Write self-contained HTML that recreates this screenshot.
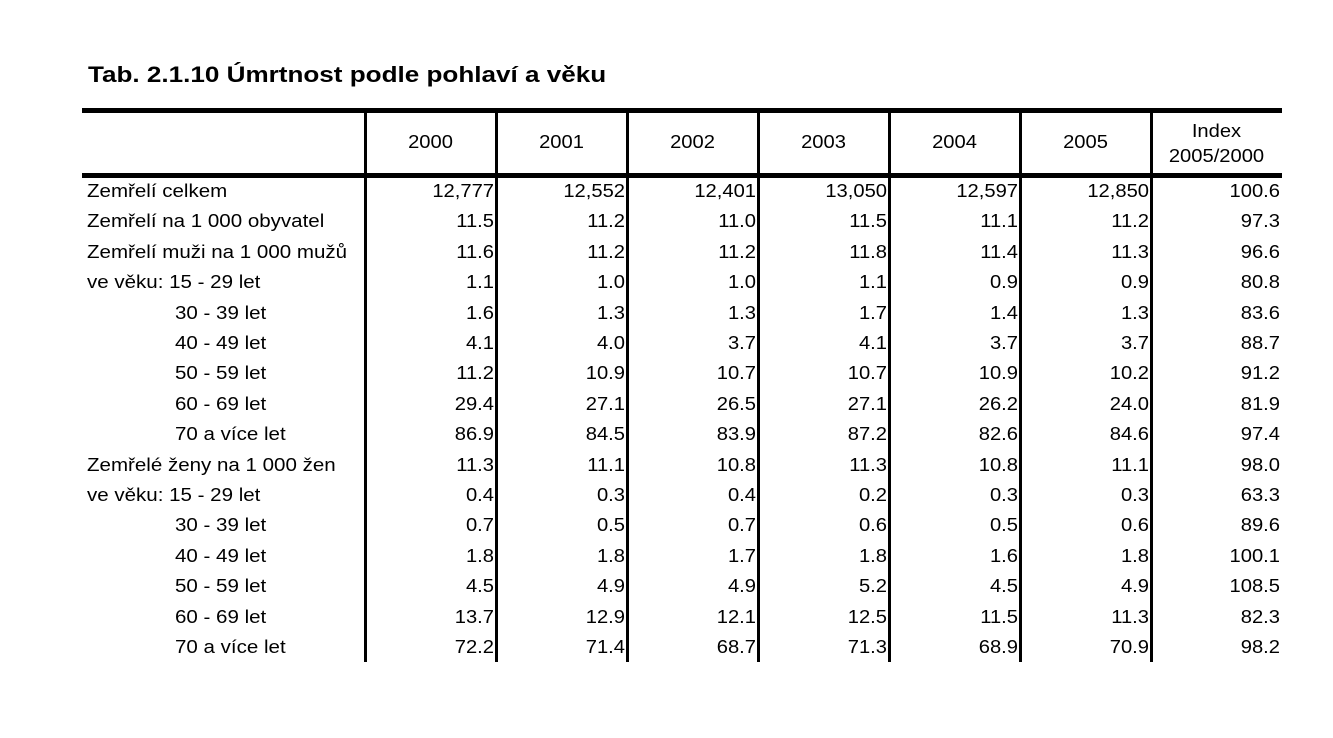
<!DOCTYPE html>
<html><head><meta charset="utf-8"><style>
body{margin:0;background:#fff;width:1333px;height:738px;position:relative;overflow:hidden;font-family:"Liberation Sans",Arial,sans-serif;color:#000}
.t{position:absolute;left:88px;top:62px;font-size:22px;font-weight:bold;white-space:nowrap;transform:scaleX(1.185);transform-origin:left center}
.h{position:absolute;background:#000}
.c{position:absolute;font-size:18px;white-space:nowrap;line-height:20px}
.l{transform:scaleX(1.14);transform-origin:left center}
.r{transform:scaleX(1.12);transform-origin:right center}
.m{transform:scaleX(1.12);transform-origin:center center}
</style></head><body>
<div class="t">Tab. 2.1.10 Úmrtnost podle pohlaví a věku</div>
<div class="h" style="left:82px;top:108px;width:1200px;height:5px"></div>
<div class="h" style="left:82px;top:173px;width:1200px;height:5px"></div>
<div id="v"></div>
<div id="d"></div>
<script>
var xs=[365,496,627,758,889,1020,1151],v='';
xs.forEach(function(x){v+='<div class="h" style="left:'+(x-1)+'px;top:113px;width:3px;height:549px"></div>';});
document.getElementById('v').innerHTML=v;
var yrs=['2000','2001','2002','2003','2004','2005'],s='';
yrs.forEach(function(y,i){s+='<div class="c m" style="left:'+xs[i]+'px;width:131px;text-align:center;top:132px">'+y+'</div>';});
s+='<div class="c m" style="left:1151px;width:131px;text-align:center;top:119px;line-height:25px">Index<br>2005/2000</div>';
var rows=[
["Zemřelí celkem",0,"12,777","12,552","12,401","13,050","12,597","12,850","100.6"],
["Zemřelí na 1 000 obyvatel",0,"11.5","11.2","11.0","11.5","11.1","11.2","97.3"],
["Zemřelí muži na 1 000 mužů",0,"11.6","11.2","11.2","11.8","11.4","11.3","96.6"],
["ve věku: 15 - 29 let",0,"1.1","1.0","1.0","1.1","0.9","0.9","80.8"],
["30 - 39 let",1,"1.6","1.3","1.3","1.7","1.4","1.3","83.6"],
["40 - 49 let",1,"4.1","4.0","3.7","4.1","3.7","3.7","88.7"],
["50 - 59 let",1,"11.2","10.9","10.7","10.7","10.9","10.2","91.2"],
["60 - 69 let",1,"29.4","27.1","26.5","27.1","26.2","24.0","81.9"],
["70 a více let",1,"86.9","84.5","83.9","87.2","82.6","84.6","97.4"],
["Zemřelé ženy na 1 000 žen",0,"11.3","11.1","10.8","11.3","10.8","11.1","98.0"],
["ve věku: 15 - 29 let",0,"0.4","0.3","0.4","0.2","0.3","0.3","63.3"],
["30 - 39 let",1,"0.7","0.5","0.7","0.6","0.5","0.6","89.6"],
["40 - 49 let",1,"1.8","1.8","1.7","1.8","1.6","1.8","100.1"],
["50 - 59 let",1,"4.5","4.9","4.9","5.2","4.5","4.9","108.5"],
["60 - 69 let",1,"13.7","12.9","12.1","12.5","11.5","11.3","82.3"],
["70 a více let",1,"72.2","71.4","68.7","71.3","68.9","70.9","98.2"]];
rows.forEach(function(r,i){
 var top=181+i*30.4;
 s+='<div class="c l" style="left:'+(r[1]?175:87)+'px;top:'+top+'px">'+r[0]+'</div>';
 for(var j=0;j<7;j++){
  var right=(j<6?xs[j+1]-2:1280);
  s+='<div class="c r" style="left:'+(right-120)+'px;width:120px;text-align:right;top:'+top+'px">'+r[j+2]+'</div>';
 }
});
document.getElementById('d').innerHTML=s;
</script>
</body></html>
